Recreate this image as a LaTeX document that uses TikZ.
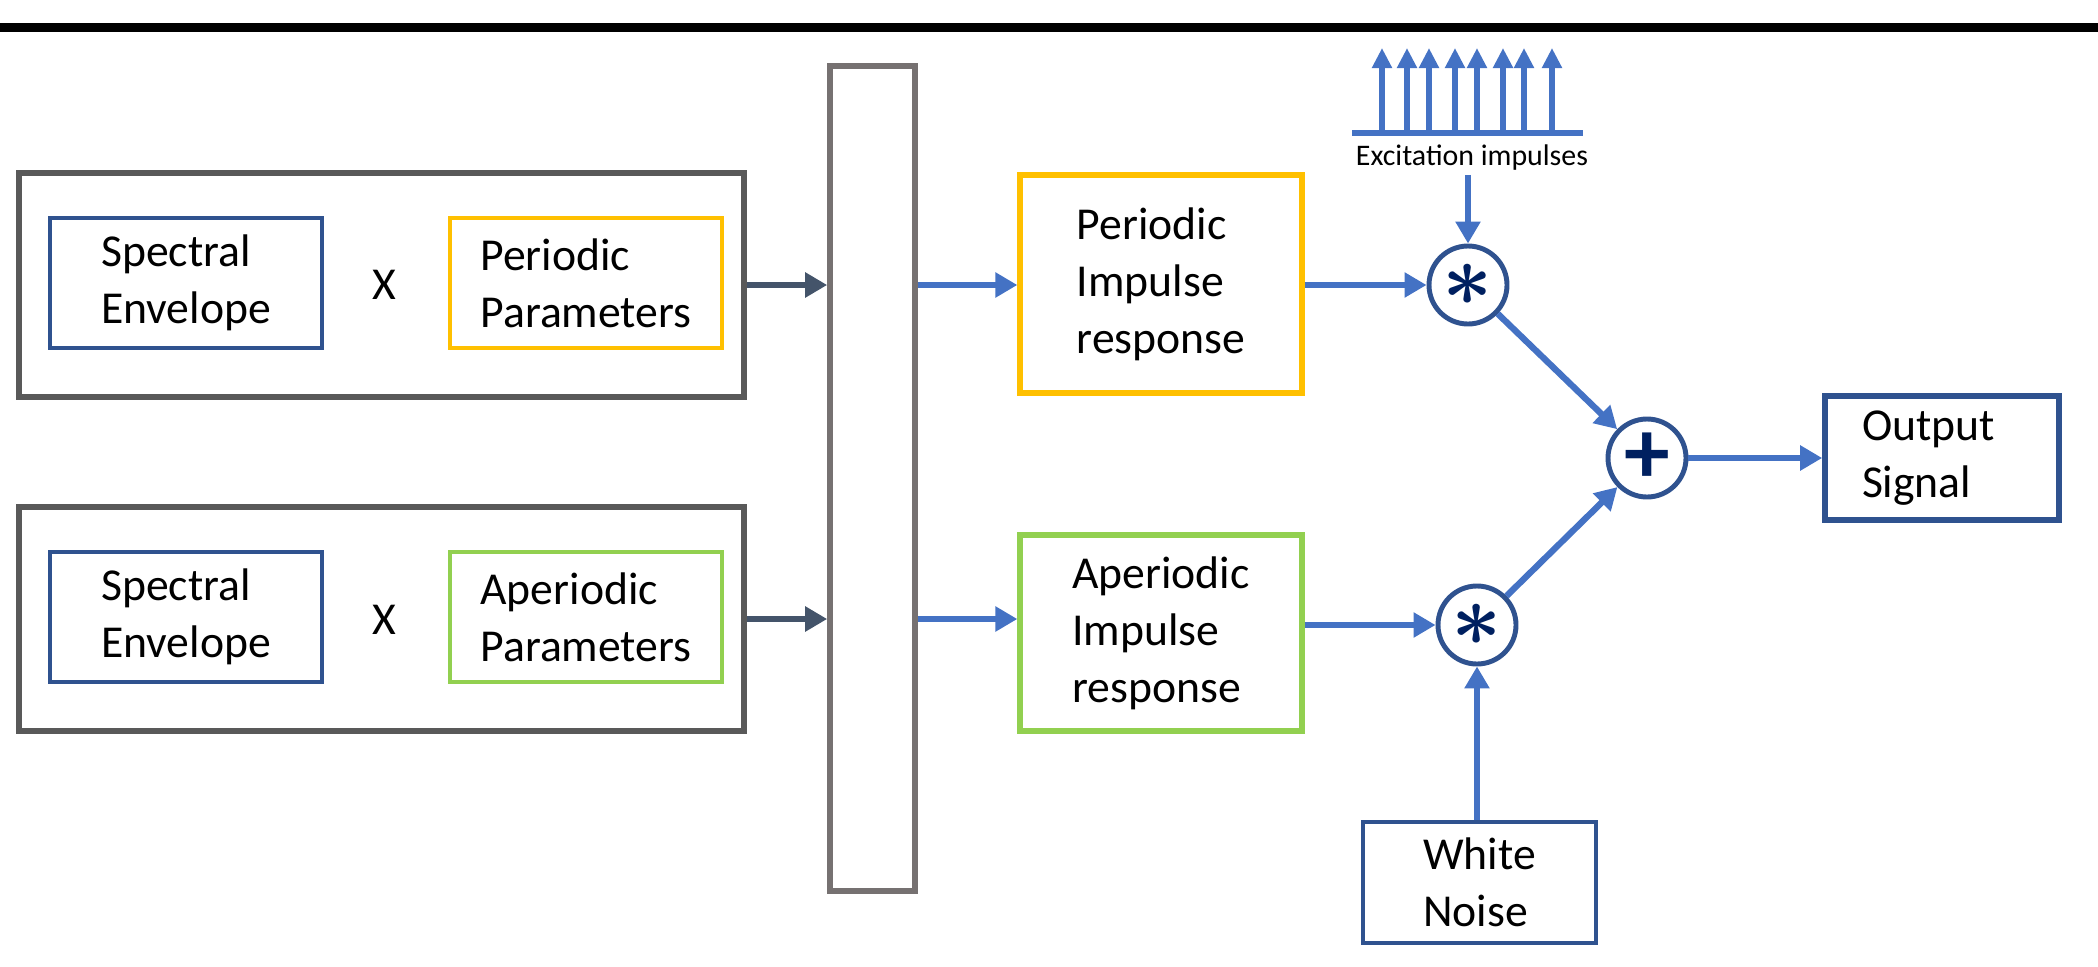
\documentclass[tikz,border=0pt]{standalone}
\usepackage{fontspec}
\setmainfont{Carlito}
\usetikzlibrary{arrows.meta}

\definecolor{boxblue}{RGB}{47,82,143}
\definecolor{boxyellow}{RGB}{255,192,0}
\definecolor{boxgreen}{RGB}{146,208,80}
\definecolor{framegray}{RGB}{89,89,89}
\definecolor{bargray}{RGB}{118,113,113}
\definecolor{arrowblue}{RGB}{68,114,196}
\definecolor{arrowslate}{RGB}{68,84,106}
\definecolor{symbolnavy}{RGB}{0,32,96}

\tikzset{
  blockbox/.style={draw, rectangle, line width=1.3pt, align=left, inner sep=0pt,
    font=\fontsize{13}{16.2}\selectfont},
  parambox/.style={blockbox, minimum width=2.72cm, minimum height=1.30cm},
  framebox/.style={draw=framegray, rectangle, line width=1.8pt,
    minimum width=7.25cm, minimum height=2.24cm},
  opcircle/.style={draw=boxblue, circle, line width=1.4pt, minimum size=0.78cm,
    inner sep=0pt, text=symbolnavy},
  tip/.style={-{Triangle[length=0.22cm,width=0.24cm]}},
  flow/.style={tip, line width=1.8pt, draw=arrowblue},
  feed/.style={tip, line width=1.8pt, draw=arrowslate},
}

\begin{document}
\begin{tikzpicture}
  \useasboundingbox (0,0) rectangle (20.98,9.66);
  \fill[black] (0,9.34) rectangle (20.98,9.43);

  % parameter groups
  \node[framebox] (outa) at (3.815,6.81) {};
  \node[framebox] (outb) at (3.815,3.47) {};
  \node[parambox, draw=boxblue] (enva) at (1.86,6.83) {Spectral\\Envelope};
  \node[parambox, draw=boxyellow] (pera) at (5.86,6.83) {Periodic\\Parameters};
  \node[font=\fontsize{13}{16.2}\selectfont] (xa) at (3.84,6.81) {X};
  \node[parambox, draw=boxblue] (envb) at (1.86,3.49) {Spectral\\Envelope};
  \node[parambox, draw=boxgreen] (aperb) at (5.86,3.49) {Aperiodic\\Parameters};
  \node[font=\fontsize{13}{16.2}\selectfont] (xb) at (3.84,3.46) {X};

  \node[draw=bargray, line width=1.6pt, minimum width=0.85cm, minimum height=8.25cm] (bar) at (8.725,4.875) {};

  % impulse responses
  \node[blockbox, draw=boxyellow, line width=1.5pt, minimum width=2.82cm, minimum height=2.18cm] (pir) at (11.61,6.82) {Periodic\\Impulse\\response};
  \node[blockbox, draw=boxgreen, line width=1.5pt, minimum width=2.82cm, minimum height=1.96cm] (air) at (11.61,3.33) {Aperiodic\\Impulse\\response};

  \node[opcircle, font=\fontsize{24}{24}\selectfont\boldmath] (conva) at (14.68,6.81) {$\ast$};
  \node[opcircle, font=\fontsize{24}{24}\selectfont\boldmath] (convb) at (14.77,3.41) {$\ast$};
  \node[opcircle, font=\fontsize{26}{26}\selectfont\bfseries] (sum) at (16.47,5.08) {+};

  \node[blockbox, draw=boxblue, line width=1.6pt, minimum width=2.34cm, minimum height=1.24cm, text width=1.6cm] (out) at (19.42,5.08) {Output\\Signal};
  \node[blockbox, draw=boxblue, line width=0.9pt, minimum width=2.33cm, minimum height=1.21cm] (noise) at (14.795,0.835) {White\\Noise};

  % excitation train
  \draw[arrowblue, line width=1.8pt] (13.52,8.33) -- (15.83,8.33);
  \foreach \x in {13.82,14.07,14.29,14.55,14.77,15.03,15.24,15.52}
    \draw[arrowblue, line width=1.5pt, -{Triangle[length=0.2cm,width=0.19cm]}] (\x,8.33) -- (\x,9.18);
  \node[inner sep=1pt, font=\fontsize{8.5}{10}\selectfont] (exc) at (14.72,8.08) {Excitation impulses};

  % connections
  \draw[feed] (outa.east) -- (outa.east -| bar.west);
  \draw[feed] (outb.east) -- (outb.east -| bar.west);
  \draw[flow] (bar.east |- outa.east) -- (pir.west |- outa.east);
  \draw[flow] (bar.east |- outb.east) -- (air.west |- outb.east);
  \draw[flow] (pir.east |- conva) -- (conva);
  \draw[flow] (air.east |- convb) -- (convb);
  \draw[flow] (conva |- exc.south) -- (conva);
  \draw[flow] (convb |- noise.north) -- (convb);
  \draw[flow] (conva) -- (sum);
  \draw[flow] (convb) -- (sum);
  \draw[flow] (sum) -- (out);
\end{tikzpicture}
\end{document}
